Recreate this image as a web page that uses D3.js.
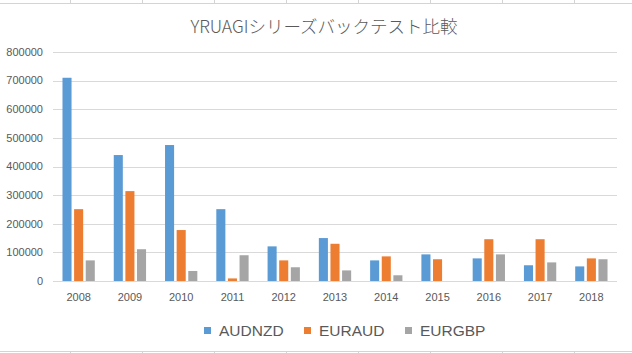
<!DOCTYPE html>
<html>
<head>
<meta charset="utf-8">
<script src="https://cdn.jsdelivr.net/npm/d3@7"></script>
<style>
  body { margin: 0; background: #fff; }
  text { font-family: "Liberation Sans", Arial, sans-serif; fill: #595959; }
  .chart-title { font-family: "Noto Sans CJK JP", sans-serif; font-weight: 300; }
</style>
</head>
<body>
<div id="chart-container"></div>
<script>
// Data
var years = ["2008", "2009", "2010", "2011", "2012", "2013", "2014", "2015", "2016", "2017", "2018"];
var seriesNames = ["AUDNZD", "EURAUD", "EURGBP"];
var audnzd = [710000, 440000, 475000, 251000, 121000, 150000, 72000, 93000, 79000, 55000, 51000];
var euraud = [251000, 314000, 178000, 9000, 72000, 130000, 86000, 76000, 146000, 146000, 79000];
var eurgbp = [72000, 111000, 35000, 90000, 48000, 37000, 20000, 0, 93000, 65000, 76000];
var yTicks = [0, 100000, 200000, 300000, 400000, 500000, 600000, 700000, 800000];
var colors = ["#5B9BD5", "#ED7D31", "#A5A5A5"];

var seriesValues = [audnzd, euraud, eurgbp];

var W = 632, H = 353;
var margin = { top: 52, right: 15, bottom: 72, left: 53 },
  width = W - margin.left - margin.right,
  height = H - margin.top - margin.bottom;

var root = d3.select("#chart-container")
  .append("svg")
  .attr("width", W)
  .attr("height", H);

// spreadsheet cell borders peeking above and below the chart
var cellX = d3.range(70, W, 72);
root.append("line").attr("x1", 0).attr("x2", W).attr("y1", 3.5).attr("y2", 3.5)
  .attr("stroke", "#d4d4d4");
root.append("line").attr("x1", 0).attr("x2", W).attr("y1", 351.5).attr("y2", 351.5)
  .attr("stroke", "#d4d4d4");
cellX.forEach(function(x) {
  root.append("line").attr("x1", x + 0.5).attr("x2", x + 0.5).attr("y1", 0).attr("y2", 3)
    .attr("stroke", "#d4d4d4");
  root.append("line").attr("x1", x + 0.5).attr("x2", x + 0.5).attr("y1", 352).attr("y2", H)
    .attr("stroke", "#d4d4d4");
});

var svg = root.append("g")
  .attr("transform", "translate(" + margin.left + "," + margin.top + ")");

// Scales
var x0 = d3.scaleBand()
  .domain(years)
  .range([0, width])
  .paddingInner(0.37)
  .paddingOuter(0.185);

var x1 = d3.scaleBand()
  .domain(seriesNames)
  .range([0, x0.bandwidth()])
  .paddingInner(0.22);

var yScale = d3.scaleLinear()
  .domain([0, 800000])
  .range([height, 0]);

// Gridlines
svg.append("g")
  .selectAll("line")
  .data(yTicks)
  .enter()
  .append("line")
  .attr("x1", 0)
  .attr("x2", width)
  .attr("y1", function(d) { return Math.round(yScale(d)) + 0.5; })
  .attr("y2", function(d) { return Math.round(yScale(d)) + 0.5; })
  .attr("stroke", "#d9d9d9")
  .attr("stroke-width", 1);

// Y axis labels
svg.append("g")
  .selectAll("text")
  .data(yTicks)
  .enter()
  .append("text")
  .attr("x", -10)
  .attr("y", function(d) { return yScale(d); })
  .attr("dy", "0.35em")
  .attr("text-anchor", "end")
  .style("font-size", "11px")
  .text(function(d) { return d; });

// Bars
var groups = svg.selectAll(".year")
  .data(years)
  .enter()
  .append("g")
  .attr("class", "year")
  .attr("transform", function(d) { return "translate(" + x0(d) + ",0)"; });

groups.selectAll("rect")
  .data(function(d, i) {
    return seriesNames.map(function(s, j) { return { name: s, value: seriesValues[j][i], idx: j }; });
  })
  .enter()
  .append("rect")
  .attr("x", function(d) { return x1(d.name); })
  .attr("y", function(d) { return yScale(d.value); })
  .attr("width", x1.bandwidth())
  .attr("height", function(d) { return height - yScale(d.value); })
  .attr("fill", function(d) { return colors[d.idx]; });

// X axis labels
svg.append("g")
  .selectAll("text")
  .data(years)
  .enter()
  .append("text")
  .attr("x", function(d) { return x0(d) + x0.bandwidth() / 2; })
  .attr("y", height + 16)
  .attr("dy", "0.35em")
  .attr("text-anchor", "middle")
  .style("font-size", "11px")
  .text(function(d) { return d; });

// Title
root.append("text")
  .attr("class", "chart-title")
  .attr("x", 324)
  .attr("y", 33)
  .attr("text-anchor", "middle")
  .style("font-size", "17.5px")
  .style("fill", "#595959")
  .text("YRUAGIシリーズバックテスト比較");

// Legend
var legendX = [204, 304, 405];
var legend = root.append("g").attr("class", "legend");
var legendItems = legend.selectAll(".legend-item")
  .data(seriesNames)
  .enter()
  .append("g")
  .attr("class", "legend-item")
  .attr("transform", function(d, i) { return "translate(" + legendX[i] + ",327)"; });

legendItems.append("rect")
  .attr("width", 7)
  .attr("height", 7)
  .attr("fill", function(d, i) { return colors[i]; });

legendItems.append("text")
  .attr("x", 15)
  .attr("y", 4)
  .attr("dy", "0.35em")
  .style("font-size", "15.5px")
  .text(function(d) { return d; });
</script>
</body>
</html>
